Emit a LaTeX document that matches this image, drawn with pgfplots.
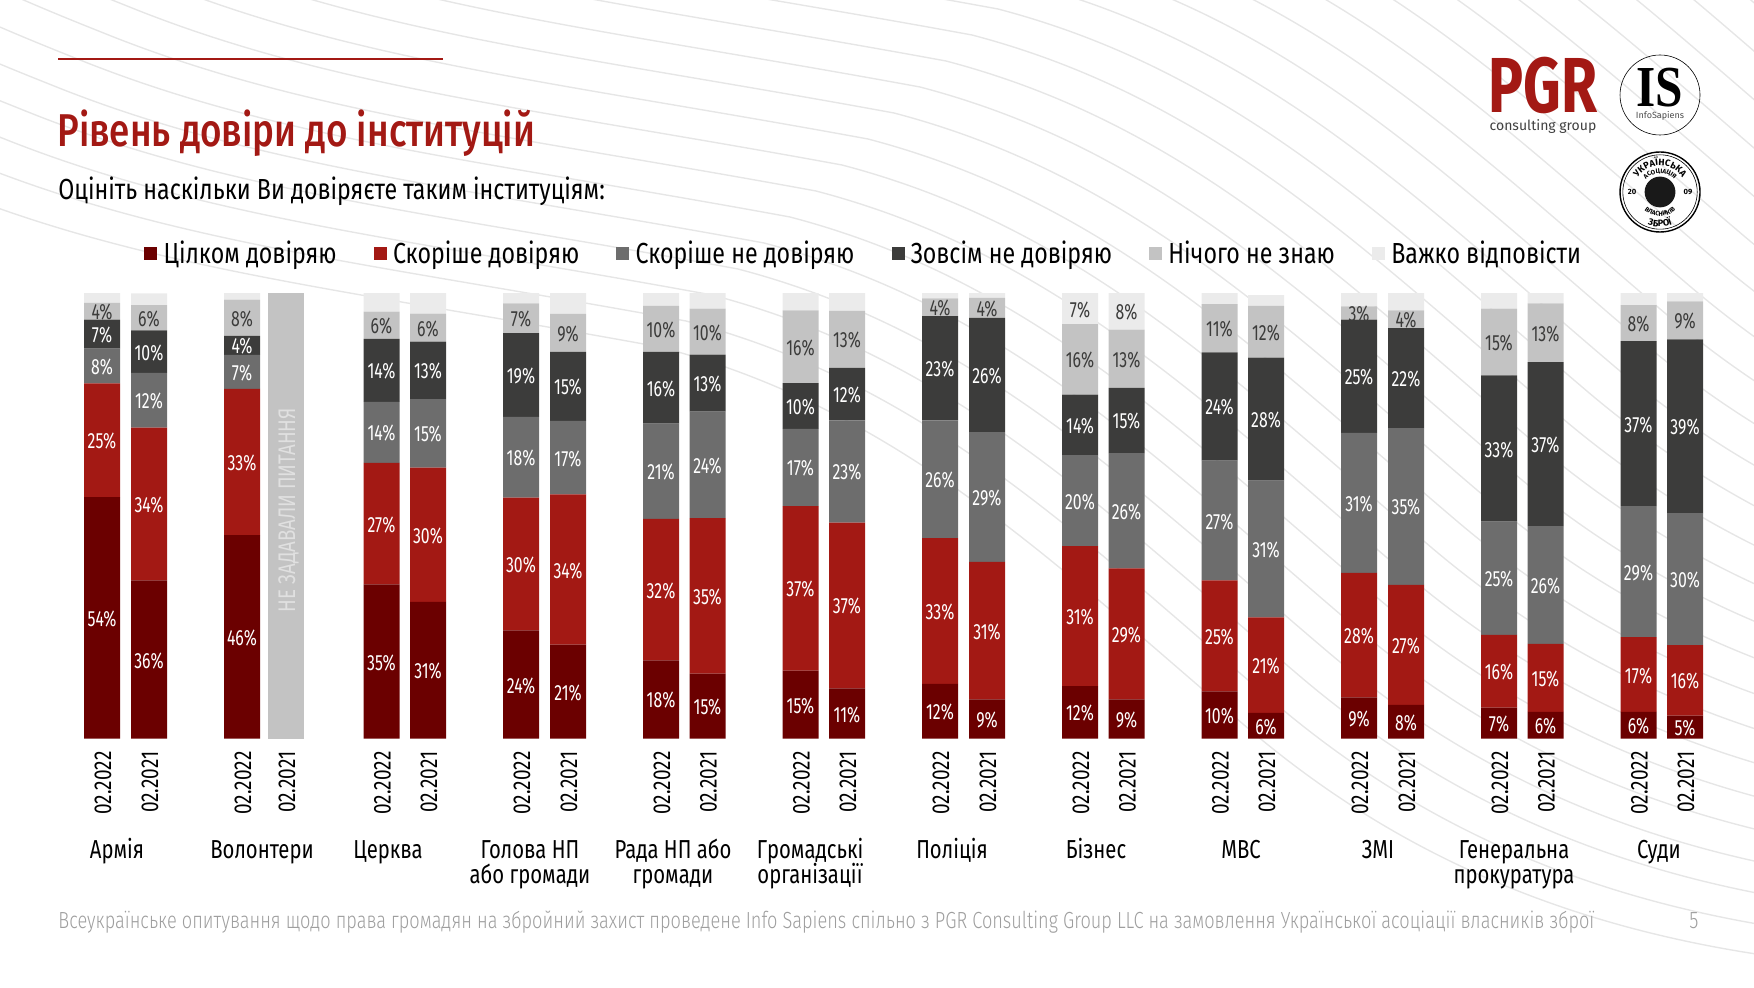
\documentclass[border=0pt]{standalone}
\usepackage{fontspec}
\usepackage{pgfplots}
\usepackage{pgfplotstable}
\pgfplotsset{compat=1.18}
\usetikzlibrary{decorations.text}
\setmainfont{Fira Sans}
\newfontfamily\titlef[FakeStretch=0.8]{Fira Sans Medium}
\newfontfamily\textf[FakeStretch=0.78]{Fira Sans}
\newfontfamily\legf[FakeStretch=0.8]{Fira Sans}
\newfontfamily\barf[FakeStretch=0.72]{Fira Sans}
\newfontfamily\lightf[FakeStretch=0.78]{Fira Sans Light}
\newfontfamily\logof{Fira Sans}

\definecolor{cA}{HTML}{6B0000}
\definecolor{cB}{HTML}{A31914}
\definecolor{cC}{HTML}{6D6D6D}
\definecolor{cD}{HTML}{3C3C3B}
\definecolor{cE}{HTML}{C3C3C3}
\definecolor{cF}{HTML}{EBEBEB}
\definecolor{wave}{HTML}{E6E6E6}

\tikzset{group label/.style={anchor=base,inner sep=0,font=\textf\fontsize{13}{15}\selectfont}}

% x is the bar centre in pixels of the reference, values in percent
\pgfplotstableread{
x t a b c d e f g la lb lc ld le lf
102 02.2022 54.2 25.5 7.8 6.5 3.8 2.2 0 54 25 8 7 4 {}
149 02.2021 35.5 34.3 12.3 9.5 5.7 2.6 0 36 34 12 10 6 {}
242 02.2022 45.7 32.8 7.6 4.3 8.1 1.5 0 46 33 7 4 8 {}
286 02.2021 0 0 0 0 0 0 100 {} {} {} {} {} {}
381.5 02.2022 34.6 27.3 13.7 14.1 6.1 4.2 0 35 27 14 14 6 {}
428 02.2021 30.7 30.1 15.4 12.9 6.3 4.6 0 31 30 15 13 6 {}
521 02.2022 24.3 29.8 18.1 18.8 6.7 2.3 0 24 30 18 19 7 {}
568 02.2021 21.1 33.7 16.5 15.5 8.5 4.7 0 21 34 17 15 9 {}
661 02.2022 17.6 31.7 21.4 16.1 10.3 2.9 0 18 32 21 16 10 {}
707.5 02.2021 14.6 34.9 23.9 12.8 10.3 3.5 0 15 35 24 13 10 {}
800.5 02.2022 15.3 36.9 17.3 10.3 16.3 3.9 0 15 37 17 10 16 {}
847 02.2021 11.3 37.2 22.9 11.8 12.8 4.0 0 11 37 23 12 13 {}
940 02.2022 12.3 32.7 26.4 23.4 4.0 1.2 0 12 33 26 23 4 {}
987 02.2021 8.8 30.9 29.1 25.6 4.5 1.1 0 9 31 29 26 4 {}
1080 02.2022 11.8 31.4 20.4 13.6 15.8 7.0 0 12 31 20 14 16 7
1126.5 02.2021 8.8 29.4 25.9 14.6 13.1 8.2 0 9 29 26 15 13 8
1219.5 02.2022 10.6 24.9 26.9 24.3 10.8 2.5 0 10 25 27 24 11 {}
1266 02.2021 5.8 21.4 30.7 27.6 11.6 2.4 0 6 21 31 28 12 {}
1359 02.2022 9.3 27.9 31.4 25.4 3.0 3.0 0 9 28 31 25 3 {}
1406 02.2021 7.6 26.9 35.2 22.4 4.0 3.9 0 8 27 35 22 4 {}
1499 02.2022 7.0 16.3 25.4 32.8 15.0 3.5 0 7 16 25 33 15 {}
1545.5 02.2021 6.0 15.3 26.4 36.8 13.2 2.3 0 6 15 26 37 13 {}
1638.5 02.2022 6.0 16.8 29.4 37.0 8.1 2.7 0 6 17 29 37 8 {}
1685 02.2021 5.2 15.8 29.6 39.0 8.5 1.9 0 5 16 30 39 9 {}
}\trust

\newcommand{\lab}{\ifx\pgfplotspointmeta\empty\else\pgfplotspointmeta\%\fi}

\begin{document}
\begin{tikzpicture}
\path[use as bounding box] (0,0) rectangle (877pt,493.5pt);

% page furniture in reference pixels
\begin{scope}[x=0.5pt,y=-0.5pt,yshift=493.5pt]
  \begin{scope}
    \clip (0,0) rectangle (1754,987);
    \foreach \i in {0,...,50}{
      \draw[wave,line width=0.7pt,shift={(26*\i,-26*\i)}]
        (-500,-60) .. controls (-300,90) and (-150,150) .. (-50,190)
        .. controls (150,270) and (350,290) .. (660,347)
        .. controls (900,410) and (1050,560) .. (1250,730)
        .. controls (1380,840) and (1550,930) .. (1800,960);
    }
  \end{scope}
  \draw[cB,line width=1.2pt] (58,59) -- (443,59);
  \node[anchor=base west,inner sep=0,text=cB,font=\titlef\fontsize{23}{26}\selectfont] at (57,147) {Рівень довіри до інституцій};
  \node[anchor=base west,inner sep=0,font=\legf\fontsize{14.5}{17}\selectfont] at (58,200) {Оцініть наскільки Ви довіряєте таким інституціям:};
  \node[anchor=base west,inner sep=0,text=black!38,font=\lightf\fontsize{11.65}{14}\selectfont] at (58,928) {Всеукраїнське опитування щодо права громадян на збройний захист проведене Info Sapiens спільно з PGR Consulting Group LLC на замовлення Української асоціації власників зброї};
  \node[anchor=base,inner sep=0,text=black!38,font=\lightf\fontsize{12}{14}\selectfont] at (1694,928) {5};
\end{scope}

\begin{axis}[
  at={(0pt,124.15pt)}, anchor=south west,
  scale only axis, width=877pt, height=222.85pt,
  xmin=0, xmax=1754, ymin=0, ymax=100,
  clip=false,
  ybar stacked, bar width=18pt,
  axis line style={draw=none},
  major tick length=0pt,
  ymajorticks=false,
  xtick=data,
  xticklabels from table={\trust}{t},
  xticklabel style={rotate=90,anchor=east,inner sep=0pt,xshift=-6.2pt,yshift=-0.5pt,font=\textf\fontsize{12.2}{15}\selectfont},
  point meta=explicit symbolic,
  nodes near coords={\lab},
  nodes near coords style={font=\barf\fontsize{11}{12}\selectfont,inner sep=0pt,yshift=-0.5pt},
  legend columns=6,
  legend cell align=left,
  legend style={at={(axis cs:144,108.9)},anchor=west,draw=none,fill=none,
    font=\legf\fontsize{14.5}{17}\selectfont,inner sep=0pt,
    /tikz/every even column/.append style={column sep=16.6pt},
    /tikz/every odd column/.append style={column sep=1.1pt}},
  legend image code/.code={\fill[#1] (0pt,-3.25pt) rectangle (6.5pt,3.25pt);},
]
\addplot[fill=cA,draw=none,text=white] table[x=x,y=a,meta=la] {\trust};
\addplot[fill=cB,draw=none,text=white] table[x=x,y=b,meta=lb] {\trust};
\addplot[fill=cC,draw=none,text=white] table[x=x,y=c,meta=lc] {\trust};
\addplot[fill=cD,draw=none,text=white] table[x=x,y=d,meta=ld] {\trust};
\addplot[fill=cE,draw=none,text=cD] table[x=x,y=e,meta=le] {\trust};
\addplot[fill=cF,draw=none,text=cD] table[x=x,y=f,meta=lf] {\trust};
\addplot[fill=cE,draw=none,forget plot] table[x=x,y=g,meta=lf] {\trust};
\legend{Цілком довіряю,Скоріше довіряю,Скоріше не довіряю,Зовсім не довіряю,Нічого не знаю,Важко відповісти}

\node[group label] at (axis cs:117,-26.8) {Армія};
\node[group label] at (axis cs:262,-26.8) {Волонтери};
\node[group label] at (axis cs:388,-26.8) {Церква};
\node[group label] at (axis cs:530,-26.8) {Голова НП};
\node[group label] at (axis cs:530,-32.4) {або громади};
\node[group label] at (axis cs:673,-26.8) {Рада НП або};
\node[group label] at (axis cs:673,-32.4) {громади};
\node[group label] at (axis cs:810,-26.8) {Громадські};
\node[group label] at (axis cs:810,-32.4) {організації};
\node[group label] at (axis cs:952,-26.8) {Поліція};
\node[group label] at (axis cs:1096,-26.8) {Бізнес};
\node[group label] at (axis cs:1241,-26.8) {МВС};
\node[group label] at (axis cs:1378,-26.8) {ЗМІ};
\node[group label] at (axis cs:1514,-26.8) {Генеральна};
\node[group label] at (axis cs:1514,-32.4) {прокуратура};
\node[group label] at (axis cs:1659,-26.8) {Суди};
\end{axis}

% on top of the bars and logos
\begin{scope}[x=0.5pt,y=-0.5pt,yshift=493.5pt]
  \node[rotate=90,inner sep=0,text=white!88!black,font=\textf\fontsize{12}{14}\selectfont] at (288.5,510) {НЕ ЗАДАВАЛИ ПИТАННЯ};
  \node[anchor=base,inner sep=0,text=cB,font=\logof\bfseries\fontsize{39}{40}\selectfont] at (1543,113) {\scalebox{0.75}[1]{PGR}};
  \node[anchor=base,inner sep=0,text=black!75,font=\logof\fontsize{7}{9}\selectfont] at (1543,131) {consulting group};
\end{scope}
\begin{scope}[shift={(830pt,446pt)}]
  \draw[line width=0.3pt] (0,0) circle (20pt);
  \node[anchor=base,inner sep=0,font=\bfseries\fontsize{29}{29}\selectfont] at (0,-6pt) {\fontspec{Liberation Serif}\scalebox{0.85}[1]{IS}};
  \node[inner sep=0,text=black!70,font=\fontsize{4.5}{5}\selectfont] at (0,-10.5pt) {InfoSapiens};
\end{scope}
\begin{scope}[shift={(830pt,397.5pt)}]
  \draw[line width=0.7pt] (0,0) circle (20pt);
  \draw[line width=0.3pt] (0,0) circle (18.6pt);
  \fill[black!90] (0,0) circle (7.7pt);
  \path[decorate,decoration={text along path,text={|\fontsize{4.6}{6}\selectfont\bfseries|УКРАЇНСЬКА},text align=center}] (175:13.3pt) arc (175:5:13.3pt);
  \path[decorate,decoration={text along path,text={|\fontsize{3.2}{4}\selectfont\bfseries|АСОЦІАЦІЯ},text align=center}] (170:9.4pt) arc (170:10:9.4pt);
  \path[decorate,decoration={text along path,text={|\fontsize{4.6}{6}\selectfont\bfseries|ЗБРОЇ},text align=center}] (210:17.4pt) arc (210:330:17.4pt);
  \path[decorate,decoration={text along path,text={|\fontsize{3.2}{4}\selectfont\bfseries|ВЛАСНИКІВ},text align=center}] (190:12pt) arc (190:350:12pt);
  \node[font=\bfseries\fontsize{3.8}{4}\selectfont,inner sep=0] at (-14pt,0) {20};
  \node[font=\bfseries\fontsize{3.8}{4}\selectfont,inner sep=0] at (14pt,0) {09};
\end{scope}
\end{tikzpicture}
\end{document}
